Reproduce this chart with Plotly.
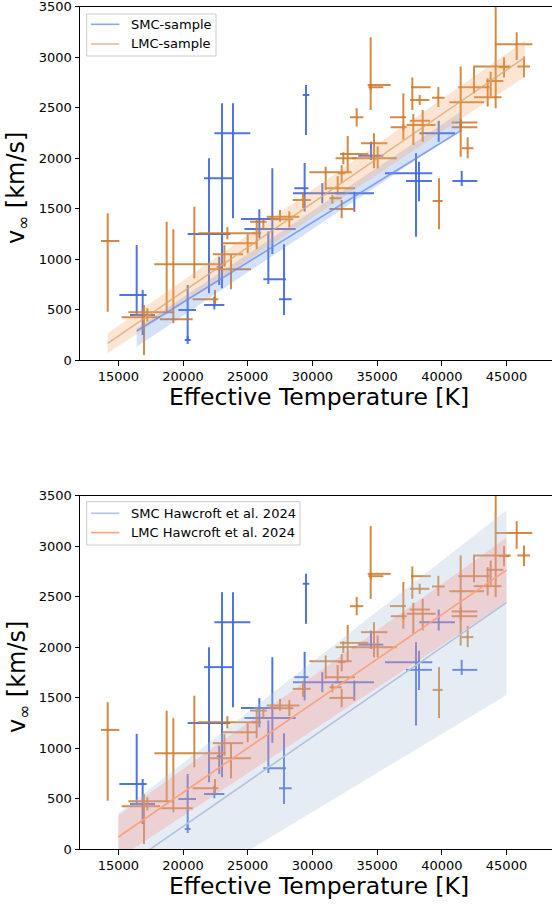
import plotly.graph_objects as go

# ---------------- data ----------------
# SMC sample: Teff [K], v_inf [km/s], asymmetric errors
smc_T   = [23864, 23015, 22010, 26904, 25899, 26595, 27806, 29506, 29400, 30765,
           33238, 39760, 34529, 38006, 38238, 41538, 16420, 16883, 20361, 20361,
           22422, 22800]
smc_v   = [2247, 1802, 1250, 1300, 1399, 802, 604, 2627, 1703, 1653,
           1653, 2247, 2025, 1851, 1775, 1775, 647, 448, 498, 201,
           547, 920]
smc_Tlo = [1443, 1391, 1649, 2164, 1417, 386, 386, 250, 800, 2264,
           1490, 1499, 981, 2396, 1000, 726, 1340, 979, 721, 230,
           798, 200]
smc_Thi = [1340, 799, 1649, 1803, 1468, 1365, 592, 250, 300, 1754,
           1522, 1260, 950, 1260, 1000, 1206, 773, 953, 644, 230,
           773, 200]
smc_vlo = [842, 1089, 587, 248, 192, 46, 155, 396, 230, 99,
           182, 83, 43, 627, 200, 50, 198, 198, 300, 40,
           43, 175]
smc_vhi = [297, 742, 749, 600, 96, 472, 544, 99, 250, 99,
           16, 125, 139, 198, 190, 99, 495, 248, 248, 40,
           82, 105]

# LMC sample
lmc_T   = [14179, 16987, 17245, 18738, 19253, 20876, 23200, 23710, 22473, 23430,
           25693, 24998, 26209, 27497, 28218, 34503, 34503, 37723, 38290, 39732,
           33421, 37028, 37028, 37800, 38522, 41458, 41458, 41458, 42000, 45786,
           44163, 44808, 42489, 43545, 43777, 46353, 32726, 35044, 32391, 34761,
           31026, 32262, 31953, 31541, 32262, 29274, 39784]
lmc_v   = [1181, 425, 475, 950, 406, 950, 1050, 901, 604, 1257,
           1257, 1158, 1372, 1422, 1396, 2725, 2702, 2702, 2577, 2600,
           2405, 2406, 2306, 2330, 2372, 2554, 2353, 2306, 2099, 3128,
           2907, 2900, 2702, 2603, 2765, 2907, 2042, 2000, 2000, 2148,
           1861, 1851, 1702, 1603, 1498, 1587, 1577]
lmc_Tlo = [515, 1726, 1468, 953, 1030, 1185, 900, 1674, 1726, 2250,
           350, 1958, 1030, 1030, 1494, 232, 180, 100, 747, 490,
           515, 1030, 980, 515, 1000, 876, 696, 696, 464, 1674,
           1726, 400, 1211, 1070, 335, 515, 592, 2000, 600, 1000,
           1262, 300, 979, 232, 953, 800, 490]
lmc_Thi = [902, 1236, 2009, 953, 1494, 2421, 1450, 1546, 258, 2250,
           350, 696, 258, 1494, 309, 1546, 980, 1417, 747, 490,
           515, 206, 260, 1725, 570, 1803, 1288, 1288, 438, 1211,
           1159, 400, 1211, 1070, 980, 464, 1597, 1468, 1000, 1030,
           2009, 300, 1340, 720, 1030, 600, 284]
lmc_vlo = [700, 373, 90, 485, 40, 138, 125, 198, 46, 60,
           158, 99, 66, 50, 80, 248, 30, 224, 50, 93,
           90, 224, 30, 198, 208, 538, 40, 40, 99, 155,
           413, 100, 59, 92, 155, 106, 191, 99, 60, 248,
           175, 90, 40, 50, 92, 80, 280]
lmc_vhi = [274, 122, 40, 422, 891, 570, 90, 142, 92, 60,
           139, 89, 23, 66, 80, 472, 30, 96, 50, 105,
           90, 238, 30, 109, 106, 353, 40, 40, 109, 119,
           594, 100, 205, 188, 92, 99, 178, 116, 60, 99,
           56, 80, 120, 33, 89, 80, 225]

# fits to the samples (top panel): end points of line and band edges
smc_fit_T  = [16420, 41460]
smc_fit_v  = [290, 2272]
smc_band_up = [316, 2461]
smc_band_lo = [135, 2280]
lmc_fit_T  = [14180, 46430]
lmc_fit_v  = [168, 2999]
lmc_band_up = [267, 3164]
lmc_band_lo = [69, 2808]

# Hawcroft et al. 2024 relations (bottom panel)
haw_T = [15000, 45000]
haw_smc_v  = [-217, 2441]
haw_smc_up = [355, 3353]
haw_smc_lo = [-789, 1527]
haw_lmc_v  = [122, 2761]
haw_lmc_up = [335, 3083]
haw_lmc_lo = [-92, 2442]

x_ticks = [15000, 20000, 25000, 30000, 35000, 40000, 45000]
y_ticks = [0, 500, 1000, 1500, 2000, 2500, 3000, 3500]

# ---------------- styling ----------------
W, H = 552, 905
FONT = "DejaVu Sans"
BLUE = "rgba(65,105,225,0.92)"
ORANGE = "rgba(205,122,42,0.88)"

def fx(px):
    return px / W

def fy(py):
    return 1 - py / H

fig = go.Figure()

def add_points(xa, ya):
    for T, v, tlo, thi, vlo, vhi, col in [
        (smc_T, smc_v, smc_Tlo, smc_Thi, smc_vlo, smc_vhi, BLUE),
        (lmc_T, lmc_v, lmc_Tlo, lmc_Thi, lmc_vlo, lmc_vhi, ORANGE),
    ]:
        fig.add_trace(go.Scatter(
            x=T, y=v, mode="markers", xaxis=xa, yaxis=ya,
            marker=dict(size=1, color=col),
            error_x=dict(type="data", symmetric=False, array=thi, arrayminus=tlo,
                         thickness=2, width=0, color=col),
            error_y=dict(type="data", symmetric=False, array=vhi, arrayminus=vlo,
                         thickness=2, width=0, color=col),
            showlegend=False, hoverinfo="skip"))

def add_band(xa, ya, T, lo, up, fill):
    fig.add_trace(go.Scatter(
        x=[T[0], T[1], T[1], T[0], T[0]], y=[lo[0], lo[1], up[1], up[0], lo[0]],
        mode="lines", fill="toself", fillcolor=fill, line=dict(width=0),
        xaxis=xa, yaxis=ya, showlegend=False, hoverinfo="skip"))

def add_line(xa, ya, T, v, col, w=1.6):
    fig.add_trace(go.Scatter(
        x=T, y=v, mode="lines", line=dict(color=col, width=w),
        xaxis=xa, yaxis=ya, showlegend=False, hoverinfo="skip"))

SMC_LINE = "rgba(100,140,235,0.75)"
LMC_LINE = "rgba(220,165,115,0.75)"
HAW_SMC = "#B0C4DE"
HAW_LMC = "#FFA07A"

# top panel
add_points("x", "y")
add_band("x", "y", smc_fit_T, smc_band_lo, smc_band_up, "rgba(100,149,237,0.28)")
add_band("x", "y", lmc_fit_T, lmc_band_lo, lmc_band_up, "rgba(244,164,96,0.28)")
add_line("x", "y", smc_fit_T, smc_fit_v, SMC_LINE)
add_line("x", "y", lmc_fit_T, lmc_fit_v, LMC_LINE)

# bottom panel
add_points("x2", "y2")
add_band("x2", "y2", haw_T, haw_smc_lo, haw_smc_up, "rgba(176,196,222,0.32)")
add_band("x2", "y2", haw_T, haw_lmc_lo, haw_lmc_up, "rgba(250,128,114,0.25)")
add_line("x2", "y2", haw_T, haw_smc_v, HAW_SMC)
add_line("x2", "y2", haw_T, haw_lmc_v, HAW_LMC)

XR = [12040, 48516]
x_dom = [fx(80), 1.0]
top_dom = [fy(360.3), fy(6.7)]
bot_dom = [fy(849.3), fy(495.5)]

def xax(anchor):
    return dict(domain=x_dom, range=XR, anchor=anchor, tickvals=x_ticks,
                ticktext=[str(t) for t in x_ticks], ticks="outside", ticklen=4.5,
                tickwidth=1, tickcolor="black", showline=True, linecolor="black",
                linewidth=1, mirror=True, showgrid=False, zeroline=False,
                ticklabeloverflow="allow",
                tickfont=dict(family=FONT, size=13, color="black"), automargin=False)

def yax(dom, anchor):
    return dict(domain=dom, range=[0, 3500], anchor=anchor, tickvals=y_ticks,
                ticktext=[str(t) for t in y_ticks], ticks="outside", ticklen=4.5,
                tickwidth=1, tickcolor="black", showline=True, linecolor="black",
                linewidth=1, mirror=False, showgrid=False, zeroline=False,
                ticklabeloverflow="allow",
                tickfont=dict(family=FONT, size=13, color="black"), automargin=False)

annotations = []
shapes = []
for yc_title, yc_label in [(397, 188), (886, 677)]:
    annotations.append(dict(text="Effective Temperature [K]", xref="paper", yref="paper",
                            x=fx(319), y=fy(yc_title), xanchor="center", yanchor="middle",
                            showarrow=False, font=dict(family=FONT, size=23.5, color="black")))
    annotations.append(dict(text="v<sub>∞</sub> [km/s]", xref="paper", yref="paper",
                            x=fx(18), y=fy(yc_label), xanchor="center", yanchor="middle",
                            textangle=-90, showarrow=False,
                            font=dict(family=FONT, size=24, color="black")))

legends = [
    (86.7, 216, 14, 56, [(24.3, "SMC-sample", SMC_LINE), (44.0, "LMC-sample", LMC_LINE)]),
    (86.7, 300, 501.7, 545, [(513.3, "SMC Hawcroft et al. 2024", HAW_SMC),
                             (532.6, "LMC Hawcroft et al. 2024", HAW_LMC)]),
]
for x0, x1, y0, y1, rows in legends:
    shapes.append(dict(type="rect", xref="paper", yref="paper", x0=fx(x0), x1=fx(x1),
                       y0=fy(y1), y1=fy(y0), line=dict(color="#cccccc", width=1),
                       fillcolor="rgba(255,255,255,0.8)", layer="above"))
    for ry, label, col in rows:
        shapes.append(dict(type="line", xref="paper", yref="paper", x0=fx(91), x1=fx(119.3),
                           y0=fy(ry), y1=fy(ry), line=dict(color=col, width=1.6), layer="above"))
        annotations.append(dict(text=label, xref="paper", yref="paper", x=fx(129.3), y=fy(ry),
                                xanchor="left", yanchor="middle", showarrow=False,
                                font=dict(family=FONT, size=13, color="black")))

fig.update_layout(
    width=W, height=H, margin=dict(l=0, r=0, t=0, b=0),
    paper_bgcolor="white", plot_bgcolor="white", showlegend=False,
    xaxis=xax("y"), yaxis=yax(top_dom, "x"),
    xaxis2=xax("y2"), yaxis2=yax(bot_dom, "x2"),
    annotations=annotations, shapes=shapes,
)

fig.write_html("out.html")
